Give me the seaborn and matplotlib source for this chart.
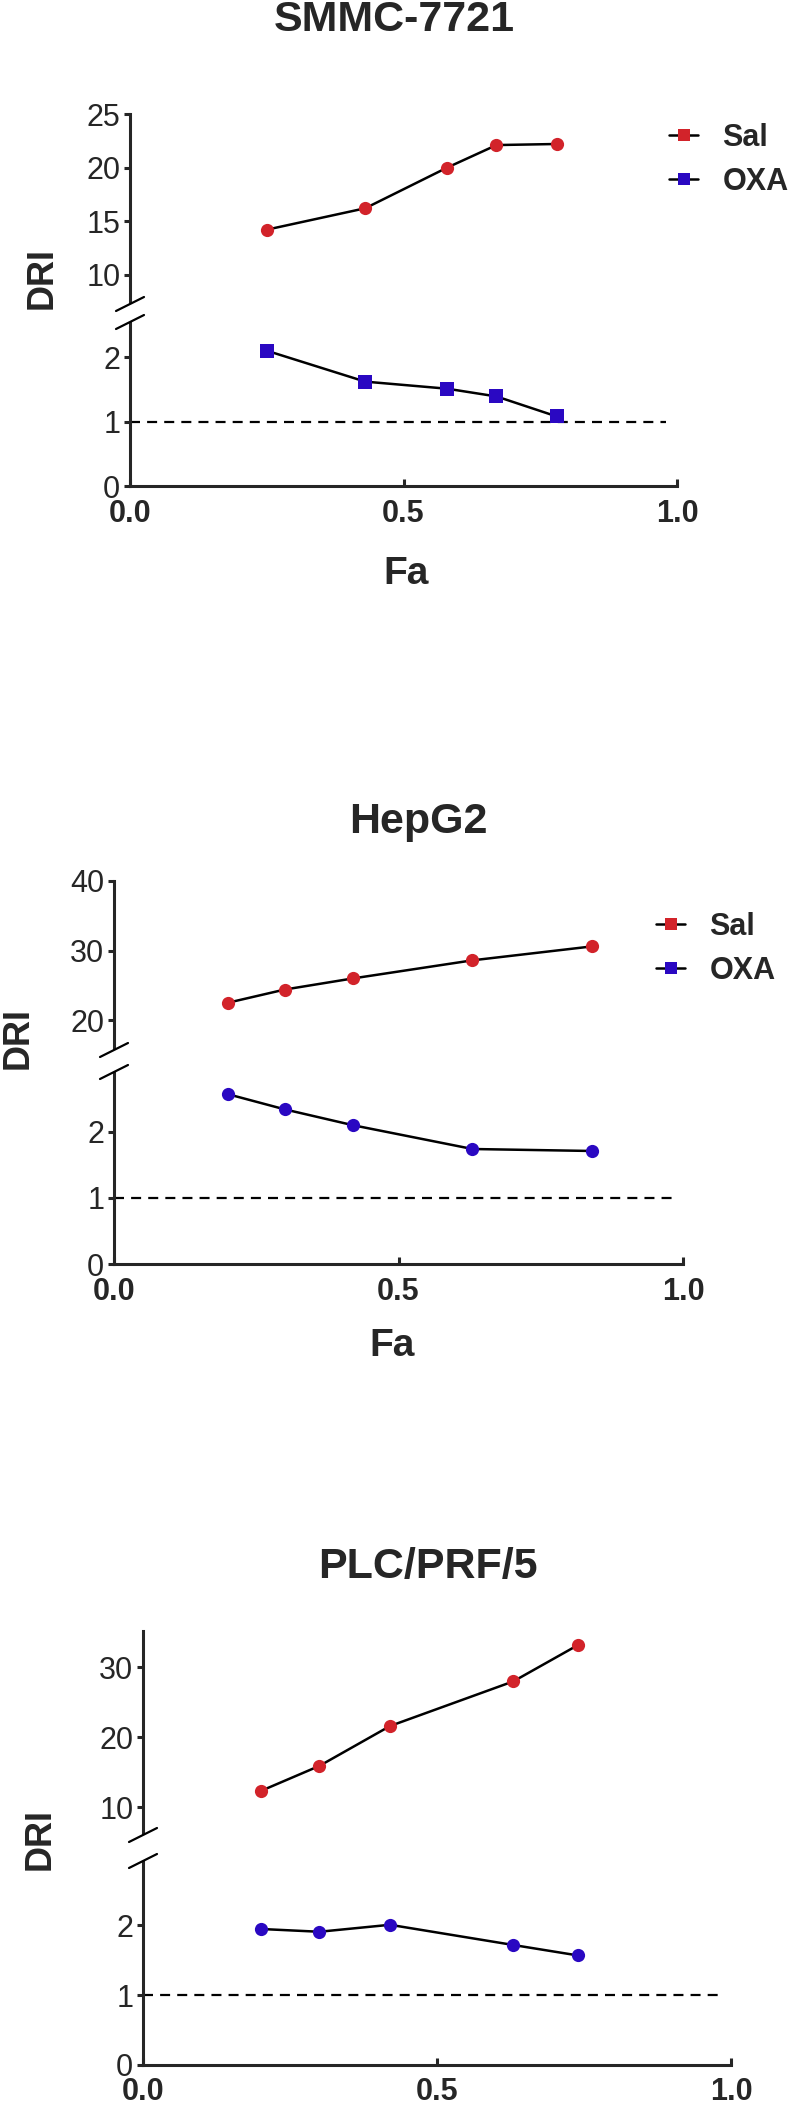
import numpy as np
import pandas as pd
import seaborn as sns
import matplotlib
matplotlib.use("Agg")
import matplotlib.pyplot as plt
from matplotlib.lines import Line2D

sns.set_style("ticks")
plt.rcParams["font.family"] = ["Liberation Sans", "DejaVu Sans"]

# ---- data ----
drugs = ["Sal", "OXA"]
titles = ["SMMC-7721", "HepG2", "PLC/PRF/5"]

fa_smmc = [0.25, 0.43, 0.58, 0.67, 0.78]
sal_smmc = [14.2, 16.2, 20.0, 22.1, 22.2]
oxa_smmc = [2.10, 1.62, 1.51, 1.39, 1.08]

fa_hep = [0.20, 0.30, 0.42, 0.63, 0.84]
sal_hep = [22.5, 24.4, 26.0, 28.6, 30.6]
oxa_hep = [2.57, 2.34, 2.10, 1.74, 1.71]

fa_plc = [0.20, 0.30, 0.42, 0.63, 0.74]
sal_plc = [12.3, 15.9, 21.6, 28.0, 33.2]
oxa_plc = [1.95, 1.91, 2.01, 1.72, 1.57]

upper_ticks = [[10, 15, 20, 25], [20, 30, 40], [10, 20, 30]]
lower_ticks = [0, 1, 2]
x_ticks = [0.0, 0.5, 1.0]
x_ticklabels = ["0.0", "0.5", "1.0"]
ref_level = 1.0
ref_end = 0.98

RED = "#D2232A"
BLUE = "#2A08C2"

# ---- layout in pixels (figure 794 x 2105) ----
W, H = 794, 2105
layout = [
    dict(left=130, right=677, up_top=114, up_bot=302, lo_top=323, lo_bot=486,
         up_ylim=(7.45, 25), lo_ylim=(0, 2.53), title=(394, 20), dri=(42, 278),
         fa=(406, 574), legend=(669, 160), oxa_marker="s"),
    dict(left=114, right=683, up_top=881, up_bot=1048, lo_top=1073, lo_bot=1264,
         up_ylim=(16.0, 40), lo_ylim=(0, 2.89), title=(418, 822), dri=(18, 1038),
         fa=(392, 1346), legend=(656, 949), oxa_marker="o"),
    dict(left=143, right=731, up_top=1631, up_bot=1833, lo_top=1862, lo_bot=2065,
         up_ylim=(6.3, 35.2), lo_ylim=(0, 2.91), title=(428, 1567), dri=(40, 1839),
         fa=None, legend=None, oxa_marker="o"),
]


def fx(x):
    return x / W


def fy(y):
    return 1 - y / H


def rect(x0, x1, ytop, ybot):
    return [fx(x0), fy(ybot), fx(x1) - fx(x0), fy(ytop) - fy(ybot)]


fig = plt.figure(figsize=(W / 100, H / 100), dpi=100)

panels = [
    (fa_smmc, sal_smmc, oxa_smmc),
    (fa_hep, sal_hep, oxa_hep),
    (fa_plc, sal_plc, oxa_plc),
]

SPINE_W = 2.2
for i, ((fa, sal, oxa), lay) in enumerate(zip(panels, layout)):
    df = pd.DataFrame({
        "Fa": fa + fa,
        "DRI": sal + oxa,
        "drug": ["Sal"] * len(sal) + ["OXA"] * len(oxa),
    })

    ax_up = fig.add_axes(rect(lay["left"], lay["right"], lay["up_top"], lay["up_bot"]))
    ax_lo = fig.add_axes(rect(lay["left"], lay["right"], lay["lo_top"], lay["lo_bot"]))

    styles = {"Sal": ("o", RED), "OXA": (lay["oxa_marker"], BLUE)}
    for ax in (ax_up, ax_lo):
        for drug in drugs:
            marker, color = styles[drug]
            sns.lineplot(data=df[df["drug"] == drug], x="Fa", y="DRI", ax=ax,
                         color="black", lw=1.8, marker=marker, markersize=9.5,
                         markerfacecolor=color, markeredgecolor=color,
                         markeredgewidth=0, errorbar=None, legend=False)
        ax.set_xlim(0, 1.0)
        ax.set_xlabel("")
        ax.set_ylabel("")
        for s in ["top", "right"]:
            ax.spines[s].set_visible(False)
        ax.spines["left"].set_linewidth(SPINE_W)
        ax.spines["bottom"].set_linewidth(SPINE_W)
        ax.patch.set_alpha(0)
        ax.tick_params(axis="y", direction="out", length=4, width=SPINE_W,
                       pad=3, labelsize=22)

    ax_up.set_ylim(*lay["up_ylim"])
    ax_up.set_yticks(upper_ticks[i])
    ax_up.spines["bottom"].set_visible(False)
    ax_up.tick_params(axis="x", bottom=False, labelbottom=False)

    ax_lo.set_ylim(*lay["lo_ylim"])
    ax_lo.set_yticks(lower_ticks)
    ax_lo.set_xticks(x_ticks)
    ax_lo.set_xticklabels(x_ticklabels, fontweight="bold")
    ax_lo.tick_params(axis="x", direction="in", length=5, width=SPINE_W,
                      pad=9, labelsize=22)
    ax_lo.plot([0, ref_end], [ref_level, ref_level], color="black", lw=1.6,
               ls=(0, (4.5, 3.2)), zorder=1)

    # axis break marks
    for ybrk in (lay["up_bot"] + 2, lay["lo_top"] - 1):
        xc = lay["left"]
        fig.add_artist(Line2D([fx(xc - 14), fx(xc + 14)], [fy(ybrk + 7), fy(ybrk - 7)],
                              transform=fig.transFigure, color="black", lw=1.6))

    fig.text(fx(lay["title"][0]), fy(lay["title"][1]), titles[i], ha="center",
             va="center", fontsize=31, fontweight="bold")
    fig.text(fx(lay["dri"][0]), fy(lay["dri"][1]), "DRI", ha="center", va="center",
             rotation=90, fontsize=26, fontweight="bold")
    if lay["fa"] is not None:
        fig.text(fx(lay["fa"][0]), fy(lay["fa"][1]), "Fa", ha="center", va="center",
                 fontsize=28, fontweight="bold")
    if lay["legend"] is not None:
        handles = [Line2D([], [], color="black", lw=1.8, marker="s", markersize=9,
                          markerfacecolor=styles[d][1], markeredgecolor=styles[d][1],
                          markeredgewidth=0) for d in drugs]
        ax_up.legend(handles, drugs, loc="center left",
                     bbox_to_anchor=(fx(lay["legend"][0]), fy(lay["legend"][1])),
                     bbox_transform=fig.transFigure, frameon=False,
                     prop={"size": 22, "weight": "bold"}, handlelength=0.95,
                     handletextpad=0.8, labelspacing=0.45, borderpad=0,
                     borderaxespad=0)

fig.savefig("out.png", dpi=100)
